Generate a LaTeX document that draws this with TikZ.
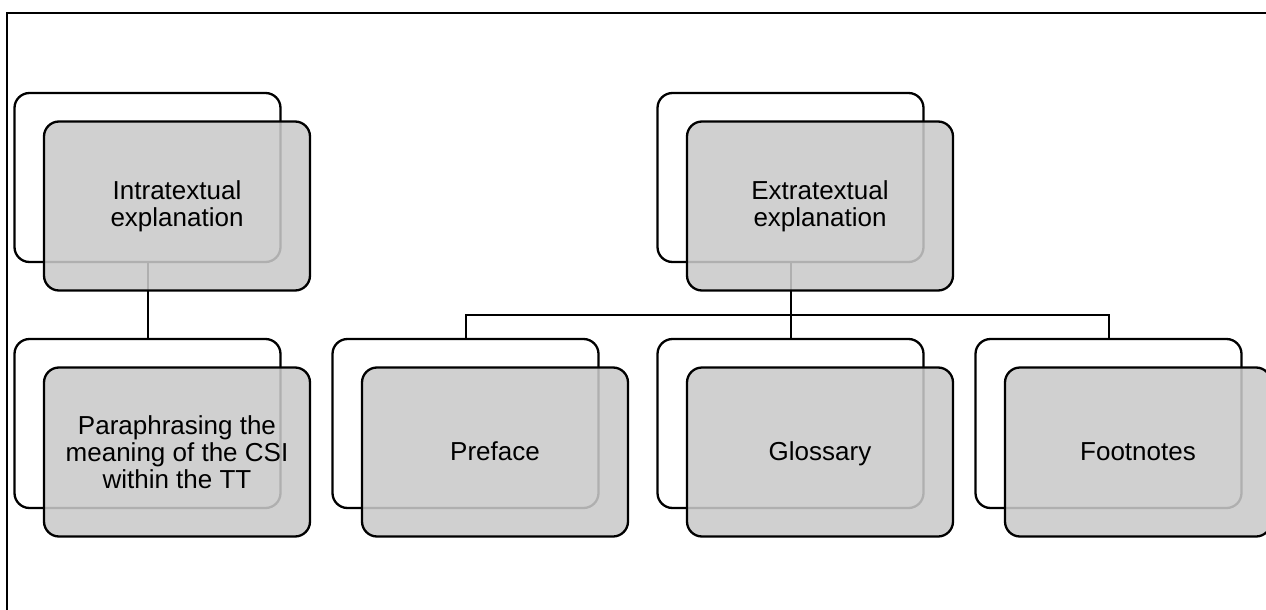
\documentclass[tikz,border=0pt]{standalone}
\usepackage{fontspec}
\setmainfont{Liberation Sans}
\definecolor{frontfill}{RGB}{201,201,201}
\begin{document}
\begin{tikzpicture}[x=1pt,y=-1pt,
  backbox/.style={draw=black, line width=2.3pt, rounded corners=15pt, minimum width=266pt, minimum height=169pt, inner sep=0pt},
  frontbox/.style={draw=black, line width=2.3pt, rounded corners=15pt, minimum width=266pt, minimum height=169pt, inner sep=0pt,
     fill=frontfill, fill opacity=0.875, text opacity=1, align=center, font=\fontsize{26}{27}\selectfont},
  oneline/.style={text height=19pt, text depth=3pt},
  conn/.style={draw=black, line width=2pt},
  frame/.style={draw=black, line width=2pt}]
\useasboundingbox (0,0) rectangle (1266,610);
% frame
\coordinate (ftl) at (7,13);
\coordinate (ftr) at (1270,13);
\coordinate (fbl) at (7,614);
\draw[frame] (ftr) -- (ftl) -- (fbl);
% back boxes
\node[backbox] (intraB) at (147.5,177.5) {};
\node[backbox] (extraB) at (790.5,177.5) {};
\node[backbox] (paraB) at (147.5,423.5) {};
\node[backbox] (prefB) at (465.5,423.5) {};
\node[backbox] (glossB) at (790.5,423.5) {};
\node[backbox] (footB) at (1108.5,423.5) {};
% connectors
\coordinate (j) at (790.5,315);
\draw[conn] (intraB.south) -- (paraB.north);
\draw[conn] (extraB.south) -- (j);
\draw[conn] (glossB.north) -- (j);
\draw[conn] (prefB.north) |- (j) -| (footB.north);
% front boxes
\node[frontbox] (intra) at (177,206) {Intratextual\\explanation};
\node[frontbox] (extra) at (820,206) {Extratextual\\explanation};
\node[frontbox] (para) at (177,452) {Paraphrasing the\\meaning of the CSI\\within the TT};
\node[frontbox, oneline] (pref) at (495,452) {Preface};
\node[frontbox, oneline] (gloss) at (820,452) {Glossary};
\node[frontbox, oneline] (foot) at (1138,452) {Footnotes};
\end{tikzpicture}
\end{document}
